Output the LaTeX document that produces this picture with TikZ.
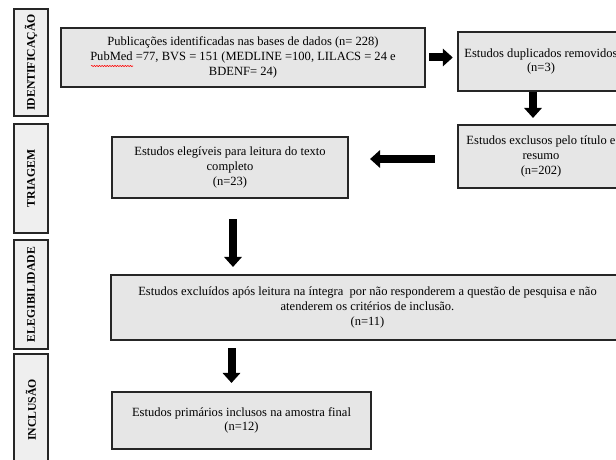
\documentclass[tikz,border=0pt]{standalone}
\usepackage{fontspec}
\setmainfont{Liberation Serif}
\usepackage{xcolor}
\usepackage{tikz}
\usetikzlibrary{shapes,arrows.meta,decorations.pathmorphing}
\definecolor{boxgray}{HTML}{E6E6E6}
\definecolor{sidegray}{HTML}{EFEFEF}
\tikzstyle{block} = [rectangle, draw=black!85, line width=1.5pt, fill=boxgray, text centered, align=center, font=\fontsize{10.7}{12.6}\selectfont]
\tikzstyle{phase} = [rectangle, draw=black!85, line width=2.2pt, fill=sidegray, rotate=90, minimum height=1.02cm, font=\bfseries\fontsize{10}{12}\selectfont]
\tikzstyle{line} = [draw, line width=0.24cm, -{Triangle[length=0.3cm, width=0.52cm]}]
\tikzstyle{spell} = [draw=red, line width=0.5pt, decorate, decoration={snake, amplitude=0.5pt, segment length=2.2pt}]

\begin{document}
\begin{tikzpicture}[x=0.03cm, y=-0.03cm]
\useasboundingbox (0,0) rectangle (616,460);
\clip (0,0) rectangle (616,460);

% fases
\node [phase, minimum width=3.2cm] (f1) at (31,62.5) {IDENTIFICAÇÃO};
\node [phase, minimum width=3.27cm] (f2) at (31,178.5) {TRIAGEM};
\node [phase, minimum width=3.27cm] (f3) at (31,294.5) {ELEGIBILIDADE};
\node [phase, minimum width=3.36cm] (f4) at (31,410) {INCLUSÃO};

% caixas
\node [block, minimum width=10.93cm, minimum height=1.78cm] (p1) at (243,57.5) {Publicações identificadas nas bases de dados (n= 228)\\ PubMed =77, BVS = 151 (MEDLINE =100, LILACS = 24 e\\ BDENF= 24)};
\path [spell] (91,66) -- (133,66);
\node [block, minimum width=5cm, minimum height=1.78cm] (p2) at (541,61.5) {Estudos duplicados removidos\\ (n=3)};
\node [block, minimum width=5cm, minimum height=1.9cm] (p3) at (541,156.5) {Estudos exclusos pelo título e\\ resumo\\ (n=202)};
\path [line, shorten <=0.09cm, shorten >=0.12cm] (p1.east) -- (p1.east -| p2.west);
\path [line, shorten >=0.18cm] ([xshift=-0.24cm]p2.south) -- ([xshift=-0.24cm]p2.south |- p3.north);

\node [block, minimum width=7.09cm, minimum height=1.84cm] (p4) at (230,167.5) {Estudos elegíveis para leitura do texto\\ completo\\ (n=23)};
\path [line, shorten <=0.66cm, shorten >=0.63cm] ([yshift=-0.075cm]p3.west) -- ([yshift=-0.075cm]p3.west -| p4.east);

\node [block, minimum width=15.4cm, minimum height=1.96cm] (p5) at (367.5,307.5) {Estudos excluídos após leitura na íntegra~ por não responderem a questão de pesquisa e não\\ atenderem os critérios de inclusão.\\ (n=11)};
\path [line, shorten <=0.6cm, shorten >=0.21cm] ([xshift=0.09cm]p4.south) -- ([xshift=0.09cm]p4.south |- p5.north);

\node [block, minimum width=7.78cm, minimum height=1.72cm] (p6) at (241.5,420.5) {Estudos primários inclusos na amostra final\\ (n=12)};
\path [line, shorten <=0.21cm, shorten >=0.24cm] ([xshift=-0.3cm]p6.north |- p5.south) -- ([xshift=-0.3cm]p6.north);
\end{tikzpicture}
\end{document}
